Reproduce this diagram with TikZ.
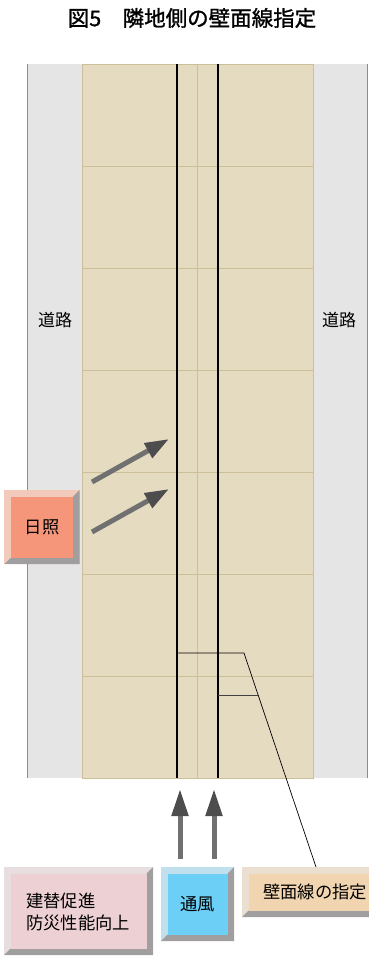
\documentclass[tikz,border=0pt]{standalone}
\usepackage{fontspec}
\newfontfamily\jp{Noto Sans CJK JP}
\newfontfamily\jpbold[FakeBold=1.2]{Noto Sans CJK JP}
\usetikzlibrary{arrows.meta}
\definecolor{roadgray}{HTML}{E5E5E5}
\definecolor{roadedge}{HTML}{8C8C8C}
\definecolor{beige}{HTML}{E5DBC1}
\definecolor{beigeline}{HTML}{CDBF9A}
\definecolor{shaftgray}{HTML}{707070}
\definecolor{headgray}{HTML}{4D4D4D}
\definecolor{darkbev}{HTML}{A09E9E}
\definecolor{sunface}{HTML}{F5967A}
\definecolor{sunlight}{HTML}{F2CABB}
\definecolor{pinkface}{HTML}{ECD0D4}
\definecolor{pinklight}{HTML}{E8DEDF}
\definecolor{blueface}{HTML}{6CCFF6}
\definecolor{bluelight}{HTML}{C0E0EE}
\definecolor{orangeface}{HTML}{F1D5B0}
\definecolor{orangelight}{HTML}{EADFD0}
\pgfdeclarelayer{back}
\pgfdeclarelayer{frame}
\pgfsetlayers{back,frame,main}
\tikzset{
  face/.style={draw=none, inner sep=0pt, font=\jp\fontsize{17.3}{22}\selectfont, text=black},
  roadlabel/.style={font=\jp\fontsize{17}{20}\selectfont},
  bigarrow/.style={draw=shaftgray, line width=5pt, -{Triangle[length=24pt,width=16pt,color=headgray]}},
  uparrow/.style={bigarrow, -{Triangle[length=27pt,width=16pt,color=headgray]}},
  callout/.style={draw=black, line width=0.7pt},
  wallline/.style={draw=black, line width=2.2pt},
  gridline/.style={draw=beigeline, line width=0.9pt},
}
% \bevelframe{node}{light}{dark}
\newcommand\bevelframe[3]{%
  \begin{pgfonlayer}{frame}
    \fill[#2] ([shift={(-6.5pt,6.5pt)}]#1.north west) rectangle ([shift={(6.5pt,-6.5pt)}]#1.south east);
    \fill[#3] ([shift={(-6.5pt,-6.5pt)}]#1.south west) -- ([shift={(6.5pt,-6.5pt)}]#1.south east)
      -- ([shift={(6.5pt,6.5pt)}]#1.north east) -- (#1.north east) -- (#1.south east) -- (#1.south west) -- cycle;
  \end{pgfonlayer}}
\begin{document}
\begin{tikzpicture}[x=1pt,y=-1pt]
\useasboundingbox (0,0) rectangle (368,964);
\begin{pgfonlayer}{back}
  \fill[roadgray] (27,64) rectangle (368,778);
  \draw[roadedge, line width=0.8pt] (27,64) -- (27,778);
  \draw[roadedge, line width=0.8pt] (367.5,64) -- (367.5,778);
  \fill[beige] (82,64) rectangle (313,778);
  \foreach \y in {166,268,370,472,574,676} \draw[gridline] (82,\y) -- (313,\y);
  \draw[gridline] (197.5,64) -- (197.5,778);
  \draw[gridline] (82,64) rectangle (313,778);
  \draw[wallline] (177,64) -- (177,778);
  \draw[wallline] (218,64) -- (218,778);
\end{pgfonlayer}

\node[font=\jpbold\fontsize{21.5}{23}\selectfont] (title) at (192,18) {図5\hspace{1em}隣地側の壁面線指定};
\node[roadlabel] (roadL) at (55,320) {道路};
\node[roadlabel] (roadR) at (339,320) {道路};

% boxes
\node[face, fill=sunface, minimum width=62pt, minimum height=61pt] (sun) at (42,527) {日照};
\bevelframe{sun}{sunlight}{darkbev}
\node[face, fill=pinkface, minimum width=136pt, minimum height=75pt] (pink) at (78.5,911) {};
\node[face, anchor=west, align=left] (pinktext) at (26,912) {建替促進\\防災性能向上};
\bevelframe{pink}{pinklight}{darkbev}
\node[face, fill=blueface, minimum width=60pt, minimum height=61pt] (wind) at (197.5,904) {通風};
\bevelframe{wind}{bluelight}{darkbev}
\node[face, fill=orangeface, minimum width=130pt, minimum height=37pt] (wall) at (313.5,892) {};
\node[face, anchor=west] (walltext) at (263,892) {壁面線の指定};
\bevelframe{wall}{orangelight}{darkbev}

% callout
\coordinate (c1) at (177,653);
\coordinate (c2) at (244,653);
\coordinate (c3) at (218,695);
\coordinate (c4) at (258,695);
\coordinate (c5) at (316,867);
\draw[callout] (c1) -- (c2) -- (c5);
\draw[draw=black!75, line width=0.9pt] (c3) -- (c4);

% arrows
\coordinate (s1) at (92,482); \coordinate (t1) at (169,439);
\coordinate (s2) at (92,532); \coordinate (t2) at (169,489);
\draw[bigarrow] (s1) -- (t1);
\draw[bigarrow] (s2) -- (t2);
\coordinate (w1) at (180,859); \coordinate (u1) at (180,789);
\coordinate (w2) at (214,859); \coordinate (u2) at (214,789);
\draw[uparrow] (w1) -- (u1);
\draw[uparrow] (w2) -- (u2);
\end{tikzpicture}
\end{document}
